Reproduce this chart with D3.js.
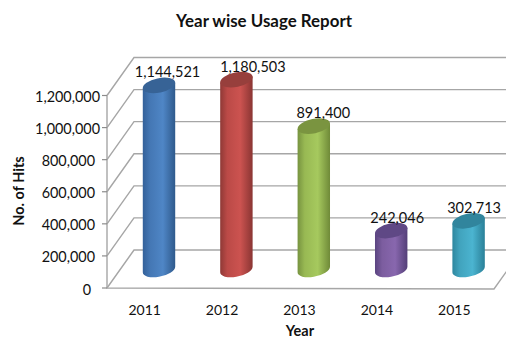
<!DOCTYPE html>
<html>
<head>
<meta charset="utf-8">
<script src="https://cdnjs.cloudflare.com/ajax/libs/d3/7.8.5/d3.min.js"></script>
<style>
html,body{margin:0;padding:0;background:#fff}
svg{display:block}
text{font-family:Lato,"Open Sans",sans-serif;fill:#111}
</style>
</head>
<body>
<svg id="chart" width="506" height="339"></svg>
<script>
const years = ["2011", "2012", "2013", "2014", "2015"];
const hits = [1144521, 1180503, 891400, 242046, 302713];
const axisTicks = [0, 200000, 400000, 600000, 800000, 1000000, 1200000];
const labelShift = [8.5, 16.5, 9.5, 6, 5.5];
const sideColors = [
  ["#33619a", "#4477b4", "#4f86c6", "#2f5a8c"],
  ["#8f3936", "#bb4a47", "#cc5350", "#8a3533"],
  ["#779340", "#98b953", "#a6c95e", "#6f8a38"],
  ["#5a4480", "#7c5d9f", "#8867ae", "#543f78"],
  ["#2e879f", "#41a3bd", "#4bb4d0", "#2a8098"]
];
const stopOffsets = [0, 0.22, 0.62, 1];
const capColors = ["#376396", "#973f3c", "#7a9440", "#5f4885", "#31859d"];

const svg = d3.select("#chart");
const defs = svg.append("defs");

// Front edge of the floor and the offset of the rear wall
const yFront = d3.scaleLinear().domain([0, 1200000]).range([288, 95.5]);
const depth = { dx: 27, dy: -38 };
const floorLeft = 107, floorRight = 494;
const wallRight = 521;
const xFront = d3.scaleBand().domain(years).range([floorLeft, floorRight]);
const xBar = d3.scaleBand().domain(years).range([floorLeft + 13.3, floorRight + 13.3]);
const yBar = d3.scaleLinear().domain([0, 1200000]).range([269.5, 76.5]);

// Tilted elliptical cross-section of each cylinder
const rx = 16.5, ry = 7.2, tiltDeg = -12;
const tilt = tiltDeg * Math.PI / 180;
const halfWidth = Math.sqrt(rx * rx * Math.cos(tilt) ** 2 + ry * ry * Math.sin(tilt) ** 2);
const lift = (rx * rx - ry * ry) * Math.sin(-tilt) * Math.cos(tilt) / halfWidth;

// Wall grid, side-wall diagonals and floor
const grid = svg.append("g").attr("stroke", "#a6a6a6").attr("stroke-width", 1.4).attr("fill", "none");
axisTicks.forEach(t => {
  const y = yFront(t);
  grid.append("path").attr("d", d3.line()([
    [floorLeft, y], [floorLeft + depth.dx, y + depth.dy], [wallRight, y + depth.dy]
  ]));
});
grid.append("path").attr("d", d3.line()([
  [floorLeft, yFront(1200000)], [floorLeft, yFront(0)], [floorRight, yFront(0) + 1], [floorRight + depth.dx, yFront(0) + 1 + depth.dy]
]));

// Tick marks and value labels; the label's right edge steps in with its length
const tickG = svg.append("g");
axisTicks.forEach(t => {
  const y = yFront(t);
  tickG.append("line").attr("x1", floorLeft - 5).attr("x2", floorLeft).attr("y1", y).attr("y2", y)
    .attr("stroke", "#8c8c8c").attr("stroke-width", 1.2);
  tickG.append("text").attr("x", t >= 1000000 ? 100 : t > 0 ? 95 : 91).attr("y", y + 6.5)
    .attr("text-anchor", "end").attr("font-size", 14.4).text(d3.format(",")(t));
});

// Category labels
svg.append("g").selectAll("text").data(years).join("text")
  .attr("x", d => xFront(d) + xFront.bandwidth() / 2 - 1)
  .attr("y", 315).attr("text-anchor", "middle").attr("font-size", 14).text(d => d);

// Cylinders
const cyl = svg.append("g").selectAll("g").data(years).join("g");
cyl.each(function (year, i) {
  const g = d3.select(this);
  const cx = xBar(year) + xBar.bandwidth() / 2;
  const top = yBar(hits[i]);
  const base = yBar(0);
  const grad = defs.append("linearGradient").attr("id", "side" + i);
  sideColors[i].forEach((c, k) => {
    grad.append("stop").attr("offset", stopOffsets[k]).attr("stop-color", c);
  });
  g.append("path")
    .attr("d", `M${cx - halfWidth} ${top + lift} L${cx - halfWidth} ${base + lift} A${rx} ${ry} ${tiltDeg} 0 0 ${cx + halfWidth} ${base - lift} L${cx + halfWidth} ${top - lift}Z`)
    .attr("fill", `url(#side${i})`);
  g.append("ellipse")
    .attr("rx", rx).attr("ry", ry)
    .attr("transform", `translate(${cx},${top}) rotate(${tiltDeg})`)
    .attr("fill", capColors[i]);
});

// Value labels above each cylinder
svg.append("g").selectAll("text").data(years).join("text")
  .attr("x", (d, i) => xBar(d) + xBar.bandwidth() / 2 + labelShift[i])
  .attr("y", (d, i) => yBar(hits[i]) - 8)
  .attr("text-anchor", "middle").attr("font-size", 14.5)
  .text((d, i) => d3.format(",")(hits[i]));

// Titles
svg.append("text").attr("x", 264).attr("y", 27).attr("text-anchor", "middle")
  .attr("font-size", 16.9).attr("font-weight", 700).text("Year wise Usage Report");
svg.append("text").attr("x", 300).attr("y", 335.5).attr("text-anchor", "middle")
  .attr("font-size", 14.5).attr("font-weight", 700).text("Year");
svg.append("text").attr("transform", "translate(24,191) rotate(-90)").attr("text-anchor", "middle")
  .attr("font-size", 14.5).attr("font-weight", 700).text("No. of Hits");
</script>
</body>
</html>
